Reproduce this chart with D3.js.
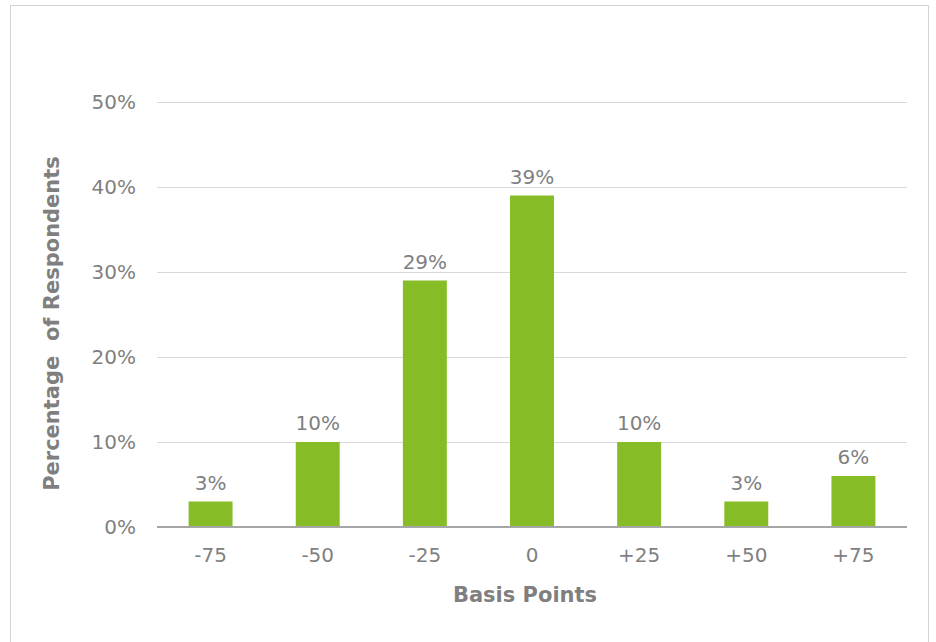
<!DOCTYPE html>
<html>
<head>
<meta charset="utf-8">
<script src="https://cdn.jsdelivr.net/npm/d3@7"></script>
<style>
  body { margin: 0; background: #fff; }
  svg { display: block; font-family: "DejaVu Sans", Verdana, sans-serif; }
  .grid line { stroke: #d9d9d9; stroke-width: 1; }
  .grid path { display: none; }
  .tick-text { fill: #7f7f7f; font-size: 20px; }
  .axis-title { fill: #7f7f7f; font-size: 21px; font-weight: bold; }
</style>
</head>
<body>
<div id="chart"></div>
<script>
  const categories = ["-75", "-50", "-25", "0", "+25", "+50", "+75"];
  const values = [3, 10, 29, 39, 10, 3, 6];
  const yTicks = [0, 10, 20, 30, 40, 50];

  const W = 936, H = 642;
  const margin = { top: 102, right: 29, bottom: 115, left: 157 };
  const width = W - margin.left - margin.right;
  const height = H - margin.top - margin.bottom;

  const svgRoot = d3.select("#chart")
      .append("svg")
      .attr("width", W)
      .attr("height", H);

  // outer frame (bottom edge falls outside the picture)
  svgRoot.append("rect")
      .attr("x", 10.5).attr("y", 5.5)
      .attr("width", 918).attr("height", 650)
      .attr("fill", "none")
      .attr("stroke", "#d4d4d4");

  const svg = svgRoot.append("g")
      .attr("transform", `translate(${margin.left},${margin.top})`);

  const x = d3.scaleBand()
      .domain(categories)
      .range([0, width])
      .paddingInner(0.59)
      .paddingOuter(0.295);

  const y = d3.scaleLinear()
      .domain([0, 50])
      .range([height, 0]);

  svg.append("g")
      .attr("class", "grid")
      .call(d3.axisLeft(y).tickValues(yTicks.slice(1)).tickSize(-width).tickFormat(""))
      .selectAll("line")
      .attr("shape-rendering", "crispEdges");

  svg.append("g")
      .selectAll("text")
      .data(yTicks)
      .join("text")
      .attr("class", "tick-text")
      .attr("x", -21)
      .attr("y", d => y(d))
      .attr("dy", "0.35em")
      .attr("text-anchor", "end")
      .text(d => d + "%");

  svg.append("g")
      .selectAll("rect")
      .data(values)
      .join("rect")
      .attr("x", (d, i) => x(categories[i]))
      .attr("y", d => y(d))
      .attr("width", x.bandwidth())
      .attr("height", d => height - y(d))
      .attr("fill", "#86bc25");

  svg.append("g")
      .selectAll("text")
      .data(values)
      .join("text")
      .attr("class", "tick-text")
      .attr("x", (d, i) => x(categories[i]) + x.bandwidth() / 2)
      .attr("y", d => y(d) - 12)
      .attr("text-anchor", "middle")
      .text(d => d + "%");

  // baseline
  svg.append("line")
      .attr("x1", 0).attr("x2", width)
      .attr("y1", height).attr("y2", height)
      .attr("stroke", "#a6a6a6")
      .attr("stroke-width", 2);

  svg.append("g")
      .selectAll("text")
      .data(categories)
      .join("text")
      .attr("class", "tick-text")
      .attr("x", d => x(d) + x.bandwidth() / 2)
      .attr("y", height + 35)
      .attr("text-anchor", "middle")
      .text(d => d);

  svg.append("text")
      .attr("class", "axis-title")
      .attr("x", width / 2 - 7)
      .attr("y", height + 75)
      .attr("text-anchor", "middle")
      .text("Basis Points");

  svg.append("text")
      .attr("class", "axis-title")
      .attr("transform", `translate(${-98},${height / 2 + 9}) rotate(-90)`)
      .attr("text-anchor", "middle")
      .attr("xml:space", "preserve")
      .style("white-space", "pre")
      .text("Percentage  of Respondents");
</script>
</body>
</html>
